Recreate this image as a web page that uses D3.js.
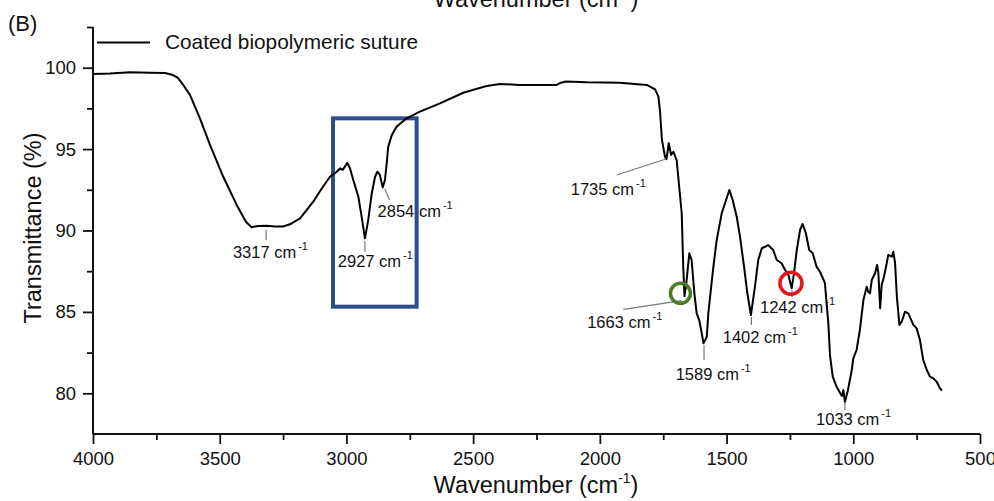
<!DOCTYPE html>
<html>
<head>
<meta charset="utf-8">
<script src="https://cdn.jsdelivr.net/npm/d3@7"></script>
<style>
  html, body { margin: 0; padding: 0; background: #fff; }
  svg { display: block; }
  text { font-family: "Liberation Sans", Arial, sans-serif; fill: #111; }
</style>
</head>
<body>
<svg id="chart" width="994" height="501"></svg>
<script>
// ---- data ----
const wavenumber = [
  4000,3933,3854,3775,3716,3684,3665,3644,3617,3578,
  3538,3486,3433,3396,3374,3349,3315,3282,3250,3223,
  3183,3131,3096,3065,3038,3025,3015,3006,2997,2986,
  2973,2953,2940,2927,2914,2900,2887,2878,2868,2857,
  2848,2841,2835,2821,2802,2762,2710,2631,2539,2447,
  2394,2315,2170,2157,2134,2052,1921,1815,1782,1769,
  1763,1755,1743,1737,1728,1719,1710,1697,1677,1671,
  1666,1660,1647,1638,1627,1618,1608,1599,1591,1578,
  1572,1565,1552,1539,1519,1502,1489,1476,1460,1447,
  1431,1418,1404,1388,1375,1361,1348,1336,1329,1316,
  1302,1283,1269,1256,1243,1234,1223,1210,1200,1187,
  1174,1160,1145,1131,1112,1098,1092,1081,1066,1052,
  1045,1039,1033,1021,1006,1000,987,974,960,947,
  941,934,927,914,906,901,894,888,879,868,
  862,848,842,835,828,818,809,796,783,763,
  750,737,724,710,697,684,671,658,650
];
const transmittance = [
  99.61,99.64,99.72,99.69,99.67,99.55,99.37,98.94,98.32,96.89,
  95.25,93.30,91.57,90.52,90.20,90.28,90.29,90.25,90.25,90.38,
  90.75,91.77,92.61,93.30,93.61,93.82,93.72,93.92,94.16,93.82,
  93.10,92.08,90.85,89.52,90.64,92.29,93.30,93.61,93.41,92.65,
  93.10,94.13,95.15,95.87,96.38,96.89,97.30,97.81,98.46,98.88,
  99.00,98.94,98.94,99.06,99.15,99.10,99.08,98.94,98.67,98.22,
  97.40,95.56,94.53,94.38,95.36,94.64,94.84,94.33,91.06,87.78,
  85.97,86.60,88.60,88.19,86.14,84.91,84.50,83.77,83.07,83.48,
  84.91,85.93,87.78,89.42,91.06,91.87,92.49,91.87,90.85,89.62,
  87.78,86.14,84.81,86.55,88.19,88.91,89.00,89.11,89.00,88.80,
  88.19,87.99,87.57,87.27,86.45,87.37,88.80,90.03,90.40,89.83,
  88.80,88.60,87.78,87.45,86.78,84.20,82.35,81.02,80.41,80.02,
  79.83,80.20,79.47,80.20,81.43,82.15,82.66,83.89,85.73,86.55,
  86.24,86.14,86.96,87.37,87.88,87.37,85.22,86.65,87.16,87.99,
  88.50,88.39,88.70,87.99,85.93,84.20,84.40,85.01,84.91,84.20,
  83.99,83.27,82.05,81.43,81.02,80.92,80.71,80.31,80.16
];
const seriesName = "Coated biopolymeric suture";
const xTickValues = [4000, 3500, 3000, 2500, 2000, 1500, 1000, 500];
const yTickValues = [80, 85, 90, 95, 100];
const peakWavenumbers = [3317, 2927, 2854, 1735, 1663, 1589, 1402, 1242, 1033];
const peakLabels = ["3317 cm", "2927 cm", "2854 cm", "1735 cm", "1663 cm", "1589 cm", "1402 cm", "1242 cm", "1033 cm"];

// ---- layout ----
const svg = d3.select("#chart");
const x = d3.scaleLinear().domain([4000, 500]).range([93, 980]);
const y = d3.scaleLinear().domain([77.5, 102.5]).range([434, 27]);

// annotation layout (leader line ends in data units, text start in data units)
const annLayout = [
  {x1: 3317, y1: 90.03, x2: 3317, y2: 89.42, tx: 3448, ty: 88.31},
  {x1: 2927, y1: 89.35, x2: 2927, y2: 88.70, tx: 3034, ty: 87.76},
  {x1: 2848, y1: 92.55, x2: 2830, y2: 91.87, tx: 2877, ty: 90.85},
  {x1: 1934, y1: 93.41, x2: 1739, y2: 94.39, tx: 2115, ty: 92.18},
  {x1: 1907, y1: 85.16, x2: 1677, y2: 85.69, tx: 2050, ty: 83.99},
  {x1: 1589, y1: 82.95, x2: 1589, y2: 82.05, tx: 1701, ty: 80.82},
  {x1: 1402, y1: 84.69, x2: 1402, y2: 84.20, tx: 1515, ty: 83.07},
  {x1: 1242, y1: 86.35, x2: 1242, y2: 85.92, tx: 1368, ty: 84.91},
  {x1: 1033, y1: 79.47, x2: 1033, y2: 78.98, tx: 1147, ty: 78.05}
];

// ---- axes ----
const axisColor = "#111";
const xAxis = d3.axisBottom(x).tickValues(xTickValues).tickSize(10).tickPadding(8).tickFormat(d3.format("d"));
const gx = svg.append("g").attr("transform", `translate(0,${y(77.5)})`).call(xAxis);
const xMinor = d3.axisBottom(x).tickValues(d3.range(3750, 500, -500)).tickSize(6).tickFormat("");
svg.append("g").attr("transform", `translate(0,${y(77.5)})`).call(xMinor).select(".domain").remove();

const yAxis = d3.axisLeft(y).tickValues(yTickValues).tickSize(10).tickPadding(7).tickFormat(d3.format("d"));
const gy = svg.append("g").attr("transform", `translate(${x(4000)},0)`).call(yAxis);
const yMinor = d3.axisLeft(y).tickValues([82.5, 87.5, 92.5, 97.5, 102.5]).tickSize(6).tickFormat("");
svg.append("g").attr("transform", `translate(${x(4000)},0)`).call(yMinor).select(".domain").remove();

svg.selectAll(".domain").attr("stroke", axisColor).attr("stroke-width", 2);
svg.selectAll(".tick line").attr("stroke", axisColor).attr("stroke-width", 1.8);
svg.selectAll(".tick text")
  .style("font-family", '"Liberation Sans", Arial, sans-serif')
  .style("font-size", "18.5px").attr("fill", "#111");
gx.select(".domain").attr("d", `M${x(4000)},0H${x(500)}`);
gy.select(".domain").attr("d", `M0,${y(102.5)}V${y(77.5)}`);

// ---- highlight box ----
svg.append("rect")
  .attr("x", x(3053)).attr("y", y(96.89))
  .attr("width", x(2723) - x(3053)).attr("height", y(85.32) - y(96.89))
  .attr("fill", "none").attr("stroke", "#2d4c8c").attr("stroke-width", 4);

// ---- spectrum ----
const pts = wavenumber.map((w, i) => [w, transmittance[i]]);
const line = d3.line().x(d => x(d[0])).y(d => y(d[1]));
svg.append("path").datum(pts)
  .attr("d", line).attr("fill", "none")
  .attr("stroke", "#000").attr("stroke-width", 2).attr("stroke-linejoin", "round");

// ---- annotations ----
annLayout.forEach((a, i) => {
  svg.append("line")
    .attr("x1", x(a.x1)).attr("y1", y(a.y1))
    .attr("x2", x(a.x2)).attr("y2", y(a.y2))
    .attr("stroke", "#777").attr("stroke-width", 1.2);
  const t = svg.append("text").attr("x", x(a.tx)).attr("y", y(a.ty))
    .style("font-size", "16.5px");
  t.append("tspan").text(peakLabels[i]);
  t.append("tspan").attr("dx", 2).attr("dy", -8).style("font-size", "11px").text("-1");
});

// ---- marker circles ----
svg.append("circle").attr("cx", x(1682)).attr("cy", y(86.14)).attr("r", 10)
  .attr("fill", "none").attr("stroke", "#4e7b2a").attr("stroke-width", 3.5);
svg.append("circle").attr("cx", x(1246)).attr("cy", y(86.76)).attr("r", 11)
  .attr("fill", "none").attr("stroke", "#e3151c").attr("stroke-width", 3.5);

// ---- legend ----
svg.append("line").attr("x1", 97).attr("x2", 150).attr("y1", 42.5).attr("y2", 42.5)
  .attr("stroke", "#000").attr("stroke-width", 1.8);
svg.append("text").attr("x", 165).attr("y", 49).style("font-size", "20.8px").text(seriesName);

// ---- titles ----
function axisTitle(xp, yp, rot) {
  return svg.append("text").attr("text-anchor", "middle")
    .attr("transform", `translate(${xp},${yp}) rotate(${rot})`)
    .style("font-size", "23.5px");
}
function wavTitle(t) {
  t.append("tspan").text("Wavenumber (cm");
  t.append("tspan").attr("dy", -10).style("font-size", "14px").text("-1");
  t.append("tspan").attr("dy", 10).text(")");
}
wavTitle(axisTitle(536, 493, 0));
wavTitle(axisTitle(536, 7, 0));
axisTitle(41, 228, -90).text("Transmittance (%)");

svg.append("text").attr("x", 8).attr("y", 31).style("font-size", "22px").text("(B)");
</script>
</body>
</html>
